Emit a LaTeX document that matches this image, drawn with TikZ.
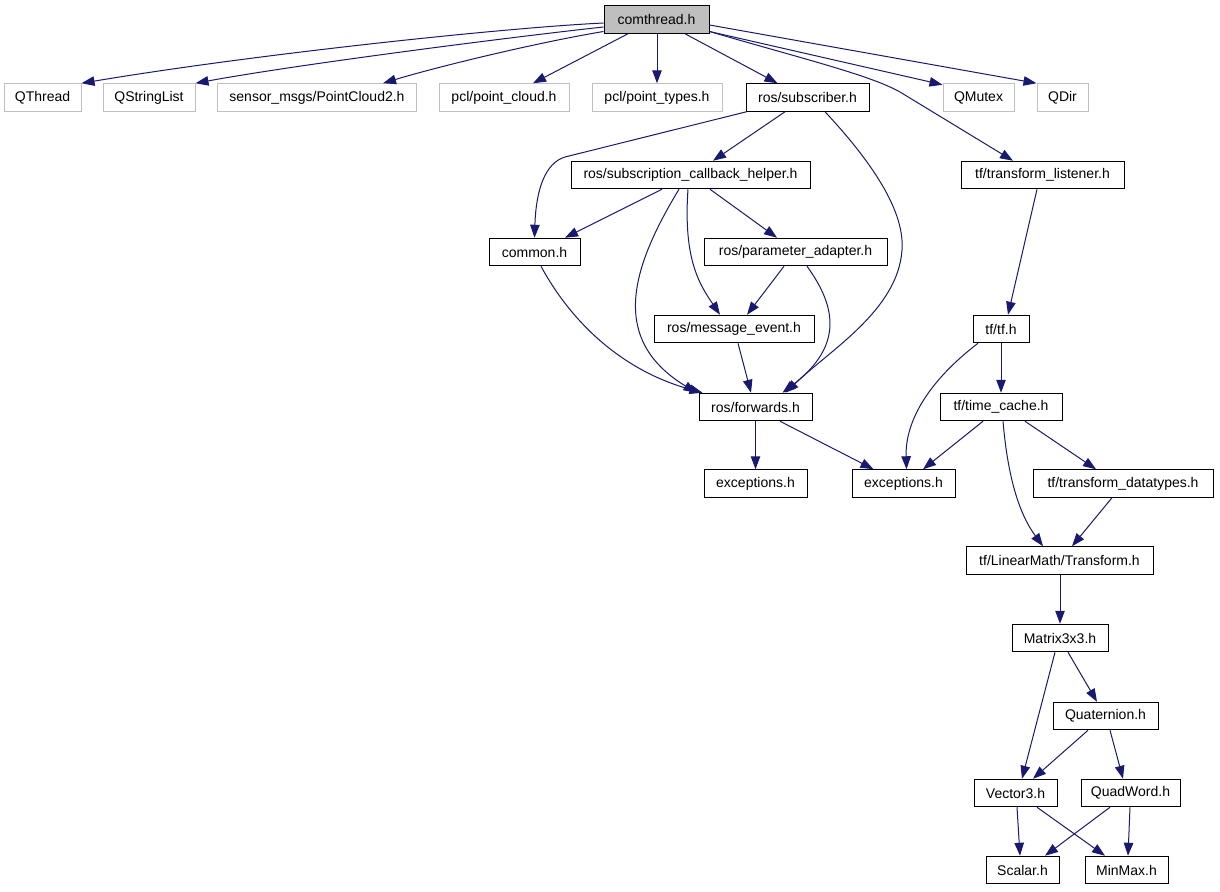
\documentclass[tikz,border=0pt]{standalone}
\usepackage{fontspec}
\setmainfont{Liberation Sans}
\usetikzlibrary{arrows.meta}
\definecolor{edgec}{HTML}{191970}
\definecolor{extc}{HTML}{BFBFBF}
\begin{document}
\begin{tikzpicture}[x=1pt,y=-1pt,
  box/.style={draw=black,line width=1pt,minimum height=27.5pt,inner sep=0pt,
    font=\fontsize{14}{16}\selectfont,fill=white},
  ext/.style={box,draw=extc},
  e/.style={draw=edgec,line width=1pt,-{Triangle[length=13pt,width=9.5pt]}}]
\useasboundingbox[fill=white] (0,0) rectangle (1220,891);
% nodes
\node[box,fill=extc,minimum width=105pt] (ct) at (656.5,19.5) {comthread.h};
\node[ext,minimum width=77pt]  (qthread) at (42.5,97.5) {QThread};
\node[ext,minimum width=92pt]  (qsl)     at (149,97.5) {QStringList};
\node[ext,minimum width=199pt] (sensor)  at (317,97.5) {sensor\_msgs/PointCloud2.h};
\node[ext,minimum width=130pt] (pc)      at (504,97.5) {pcl/point\_cloud.h};
\node[ext,minimum width=130pt] (pt)      at (657,97.5) {pcl/point\_types.h};
\node[box,minimum width=123pt] (sub)     at (807.5,97.5) {ros/subscriber.h};
\node[ext,minimum width=71pt]  (qmutex)  at (978.5,97.5) {QMutex};
\node[ext,minimum width=51pt]  (qdir)    at (1062.5,97.5) {QDir};
\node[box,minimum width=239pt] (sch)     at (690.5,175) {ros/subscription\_callback\_helper.h};
\node[box,minimum width=163pt] (tl)      at (1042.5,175) {tf/transform\_listener.h};
\node[box,minimum width=91pt]  (common)  at (534.5,252) {common.h};
\node[box,minimum width=183pt] (pa)      at (795.5,252) {ros/parameter\_adapter.h};
\node[box,minimum width=160pt] (me)      at (734,329) {ros/message\_event.h};
\node[box,minimum width=56pt]  (tf)      at (1001,329) {tf/tf.h};
\node[box,minimum width=113pt] (fw)      at (755.5,407) {ros/forwards.h};
\node[box,minimum width=122pt] (tc)      at (1001,407) {tf/time\_cache.h};
\node[box,minimum width=103pt] (exa)     at (755.5,483.5) {exceptions.h};
\node[box,minimum width=103pt] (exb)     at (903.5,483.5) {exceptions.h};
\node[box,minimum width=180pt] (td)      at (1123,483.5) {tf/transform\_datatypes.h};
\node[box,minimum width=187pt] (tr)      at (1059.5,560.5) {tf/LinearMath/Transform.h};
\node[box,minimum width=96pt]  (m3)      at (1060,638) {Matrix3x3.h};
\node[box,minimum width=105pt] (q)       at (1105.5,716) {Quaternion.h};
\node[box,minimum width=83pt]  (v3)      at (1015.5,793) {Vector3.h};
\node[box,minimum width=99pt]  (qw)      at (1130.5,793) {QuadWord.h};
\node[box,minimum width=73pt]  (sc)      at (1022.5,870) {Scalar.h};
\node[box,minimum width=83pt]  (mm)      at (1126.5,870) {MinMax.h};
% edges from comthread.h
\draw[e] ([shift={(0,3.5)}]ct.west) .. controls (500,28) and (250,55) .. (qthread.north east);
\draw[e] ([shift={(0,7.5)}]ct.west) .. controls (520,36) and (300,64) .. (qsl.north east);
\draw[e] ([shift={(0,12)}]ct.west) .. controls (540,42) and (440,66) .. ([xshift=66pt]sensor.north);
\draw[e] ([xshift=-28.5pt]ct.south) -- ([xshift=29pt]pc.north);
\draw[e] ([xshift=0.5pt]ct.south) -- (pt.north);
\draw[e] ([xshift=28.5pt]ct.south) -- ([xshift=-30pt]sub.north);
\draw[e] ([shift={(0,12)}]ct.east) .. controls (800,58) and (870,75) .. (900,92) -- ([xshift=-29.5pt]tl.north);
\draw[e] ([shift={(0,12)}]ct.east) -- ([shift={(0,1.5)}]qmutex.north west);
\draw[e] ([shift={(0,5.5)}]ct.east) -- (qdir.north west);
% ros/subscriber.h
\draw[e] ([xshift=1pt]sub.south west) -- (565,157) .. controls (545,163) and (536,190) .. (common.north);
\draw[e] ([xshift=-22.5pt]sub.south) -- ([xshift=22.5pt]sch.north);
\draw[e] ([xshift=17.5pt]sub.south) .. controls (870,160) and (905,210) .. (902,250)
  .. controls (898,310) and (830,350) .. ([xshift=30pt]fw.north);
% ros/subscription_callback_helper.h
\draw[e] ([xshift=-28.5pt]sch.south) -- ([xshift=30.5pt]common.north);
\draw[e] ([xshift=-11.5pt]sch.south) .. controls (630,270) and (610,340) .. ([xshift=-2pt]fw.north west);
\draw[e] ([xshift=-2.5pt]sch.south) .. controls (683,260) and (700,285) .. ([xshift=-14pt]me.north);
\draw[e] ([xshift=19.5pt]sch.south) -- ([xshift=-18.5pt]pa.north);
% others in ros
\draw[e] ([xshift=6.5pt]common.south) .. controls (570,320) and (620,370) .. ([xshift=4pt]fw.north west);
\draw[e] ([xshift=-11.5pt]pa.south) -- ([xshift=13pt]me.north);
\draw[e] ([xshift=11.5pt]pa.south) .. controls (835,305) and (845,345) .. ([xshift=27pt]fw.north);
\draw[e] ([xshift=4pt]me.south) -- ([xshift=-4.5pt]fw.north);
\draw[e] (fw.south) -- (exa.north);
\draw[e] ([xshift=24.5pt]fw.south) -- ([xshift=-30pt]exb.north);
% tf
\draw[e] ([xshift=-5.5pt]tl.south) -- ([xshift=7pt]tf.north);
\draw[e] ([xshift=-23pt]tf.south) .. controls (930,380) and (905,420) .. ([xshift=3pt]exb.north);
\draw[e] (tf.south) -- (tc.north);
\draw[e] ([xshift=-18pt]tc.south) -- ([xshift=19.5pt]exb.north);
\draw[e] ([xshift=24pt]tc.south) -- ([xshift=-27pt]td.north);
\draw[e] ([xshift=2pt]tc.south) .. controls (1008,480) and (1020,515) .. ([xshift=-16.5pt]tr.north);
\draw[e] ([xshift=-11pt]td.south) -- ([xshift=12.5pt]tr.north);
% LinearMath
\draw[e] ([xshift=0.5pt]tr.south) -- (m3.north);
\draw[e] ([xshift=-5pt]m3.south) -- ([xshift=6.5pt]v3.north);
\draw[e] ([xshift=8pt]m3.south) -- ([xshift=-8.5pt]q.north);
\draw[e] ([xshift=-17.5pt]q.south) -- ([xshift=17.5pt]v3.north);
\draw[e] ([xshift=4.5pt]q.south) -- ([xshift=-7.5pt]qw.north);
\draw[e] ([xshift=1.5pt]v3.south) -- ([xshift=-2.5pt]sc.north);
\draw[e] ([xshift=21.5pt]v3.south) -- ([xshift=-21.5pt]mm.north);
\draw[e] ([xshift=-20.5pt]qw.south) -- ([xshift=22.5pt]sc.north);
\draw[e] ([xshift=-0.5pt]qw.south) -- ([xshift=1.5pt]mm.north);
\end{tikzpicture}
\end{document}
